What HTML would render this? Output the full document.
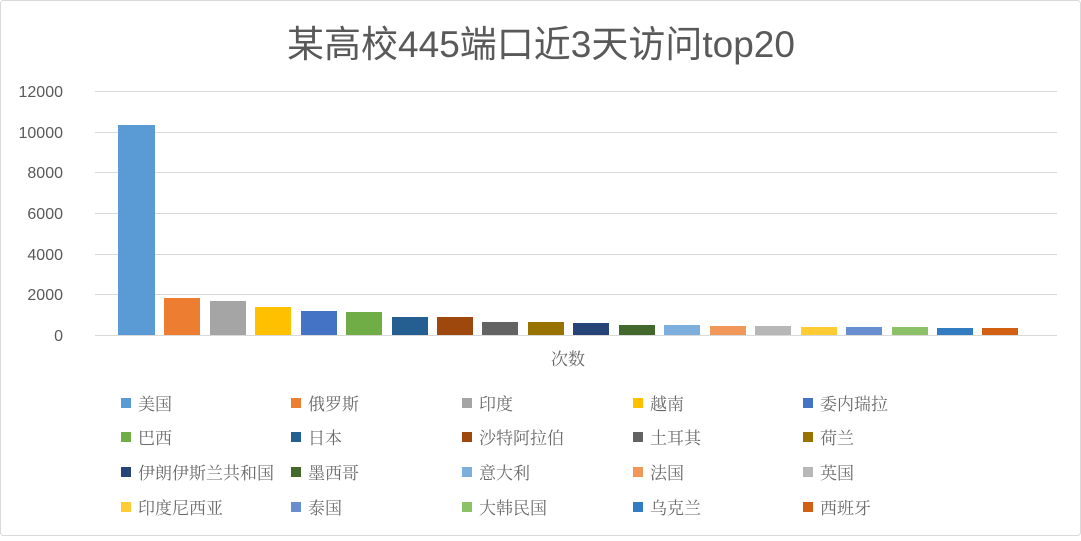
<!DOCTYPE html>
<html><head><meta charset="utf-8"><style>
body{margin:0;background:#fff}
svg text{font-family:"Liberation Sans","Noto Sans CJK SC",sans-serif}
svg text.l{font-family:"Liberation Serif","Noto Serif CJK SC","WenQuanYi Zen Hei",serif;font-size:17px;fill:#6a6a6a}
</style></head><body>
<svg width="1081" height="536" xmlns="http://www.w3.org/2000/svg">
<rect x="0.5" y="0.5" width="1080" height="535" rx="3" fill="#fff" stroke="#d9d9d9"/>
<text x="541" y="57" text-anchor="middle" font-size="37" fill="#595959">某高校445端口近3天访问top20</text>
<g stroke="#d9d9d9" stroke-width="1">
<line x1="95" x2="1057" y1="91.5" y2="91.5"/><line x1="95" x2="1057" y1="132.5" y2="132.5"/>
<line x1="95" x2="1057" y1="172.5" y2="172.5"/><line x1="95" x2="1057" y1="213.5" y2="213.5"/>
<line x1="95" x2="1057" y1="254.5" y2="254.5"/><line x1="95" x2="1057" y1="294.5" y2="294.5"/>
<line x1="95" x2="1057" y1="335.5" y2="335.5"/></g>
<g font-size="16" fill="#595959" text-anchor="end">
<text x="63" y="97">12000</text><text x="63" y="138">10000</text><text x="63" y="178">8000</text>
<text x="63" y="219">6000</text><text x="63" y="260">4000</text><text x="63" y="300">2000</text><text x="63" y="341">0</text></g>
<g>
<rect x="118" y="125" width="37" height="210" fill="#5b9bd5"/>
<rect x="164" y="298" width="36" height="37" fill="#ed7d31"/>
<rect x="210" y="301" width="36" height="34" fill="#a5a5a5"/>
<rect x="255" y="307" width="36" height="28" fill="#ffc000"/>
<rect x="301" y="311" width="36" height="24" fill="#4472c4"/>
<rect x="346" y="312" width="36" height="23" fill="#70ad47"/>
<rect x="392" y="317" width="36" height="18" fill="#255e91"/>
<rect x="437" y="317" width="36" height="18" fill="#9e480e"/>
<rect x="482" y="322" width="36" height="13" fill="#636363"/>
<rect x="528" y="322" width="36" height="13" fill="#997300"/>
<rect x="573" y="323" width="36" height="12" fill="#264478"/>
<rect x="619" y="325" width="36" height="10" fill="#43682b"/>
<rect x="664" y="325" width="36" height="10" fill="#7cafdd"/>
<rect x="710" y="326" width="36" height="9" fill="#f1975a"/>
<rect x="755" y="326" width="36" height="9" fill="#b7b7b7"/>
<rect x="801" y="327" width="36" height="8" fill="#ffcd33"/>
<rect x="846" y="327" width="36" height="8" fill="#698ed0"/>
<rect x="892" y="327" width="36" height="8" fill="#8cc168"/>
<rect x="937" y="328" width="36" height="7" fill="#327dc2"/>
<rect x="982" y="328" width="36" height="7" fill="#d26012"/>
</g>
<text x="568" y="365" text-anchor="middle" class="l">次数</text>
<g>
<rect x="121" y="398" width="10" height="10" fill="#5b9bd5"/><text x="138" y="410" class="l">美国</text>
<rect x="291" y="398" width="10" height="10" fill="#ed7d31"/><text x="308" y="410" class="l">俄罗斯</text>
<rect x="462" y="398" width="10" height="10" fill="#a5a5a5"/><text x="479" y="410" class="l">印度</text>
<rect x="633" y="398" width="10" height="10" fill="#ffc000"/><text x="650" y="410" class="l">越南</text>
<rect x="803" y="398" width="10" height="10" fill="#4472c4"/><text x="820" y="410" class="l">委内瑞拉</text>
<rect x="121" y="432" width="10" height="10" fill="#70ad47"/><text x="138" y="444" class="l">巴西</text>
<rect x="291" y="432" width="10" height="10" fill="#255e91"/><text x="308" y="444" class="l">日本</text>
<rect x="462" y="432" width="10" height="10" fill="#9e480e"/><text x="479" y="444" class="l">沙特阿拉伯</text>
<rect x="633" y="432" width="10" height="10" fill="#636363"/><text x="650" y="444" class="l">土耳其</text>
<rect x="803" y="432" width="10" height="10" fill="#997300"/><text x="820" y="444" class="l">荷兰</text>
<rect x="121" y="467" width="10" height="10" fill="#264478"/><text x="138" y="479" class="l">伊朗伊斯兰共和国</text>
<rect x="291" y="467" width="10" height="10" fill="#43682b"/><text x="308" y="479" class="l">墨西哥</text>
<rect x="462" y="467" width="10" height="10" fill="#7cafdd"/><text x="479" y="479" class="l">意大利</text>
<rect x="633" y="467" width="10" height="10" fill="#f1975a"/><text x="650" y="479" class="l">法国</text>
<rect x="803" y="467" width="10" height="10" fill="#b7b7b7"/><text x="820" y="479" class="l">英国</text>
<rect x="121" y="502" width="10" height="10" fill="#ffcd33"/><text x="138" y="514" class="l">印度尼西亚</text>
<rect x="291" y="502" width="10" height="10" fill="#698ed0"/><text x="308" y="514" class="l">泰国</text>
<rect x="462" y="502" width="10" height="10" fill="#8cc168"/><text x="479" y="514" class="l">大韩民国</text>
<rect x="633" y="502" width="10" height="10" fill="#327dc2"/><text x="650" y="514" class="l">乌克兰</text>
<rect x="803" y="502" width="10" height="10" fill="#d26012"/><text x="820" y="514" class="l">西班牙</text>
</g>
</svg>
</body></html>
